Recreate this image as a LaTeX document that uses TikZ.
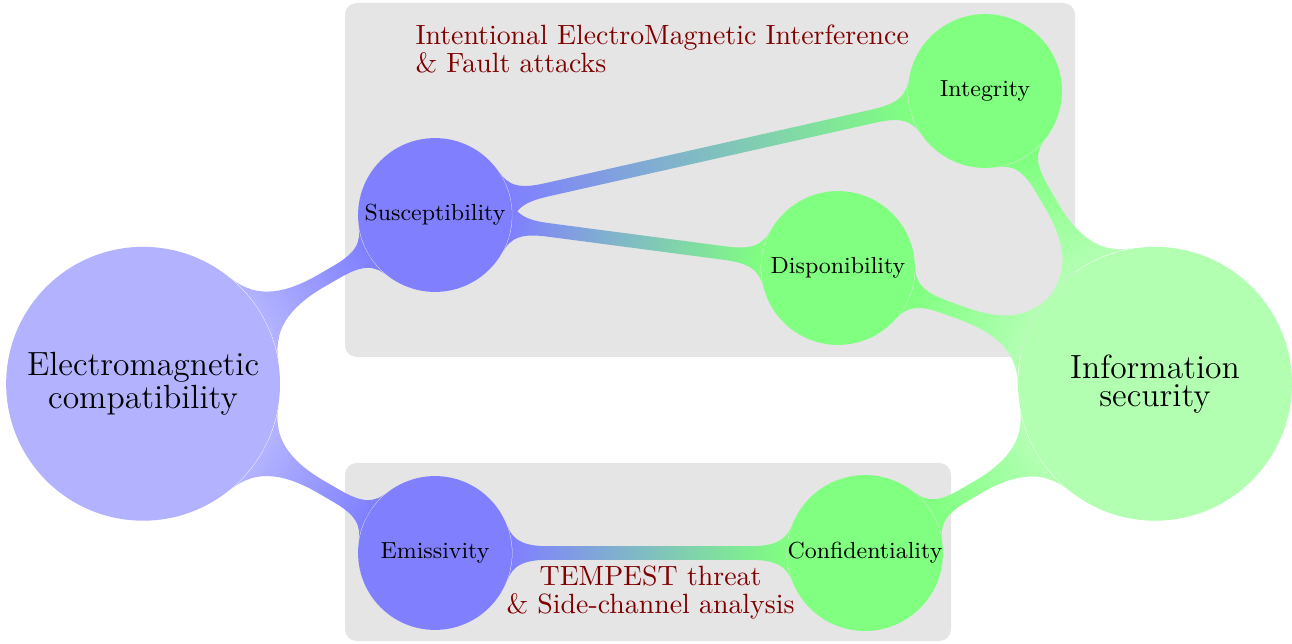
\documentclass[tikz,border=0pt]{standalone}
\usetikzlibrary{mindmap}
\newcommand{\link}[4]{
\path (#1) to[circle connection bar switch color=from (#3) to (#4)] (#2);
}
\begin{document}
\begin{tikzpicture}[
  topic/.style={circle, fill=#1, align=center, inner sep=0pt, text=black},
  big/.style={topic=#1, minimum size=3.56cm, font=\fontsize{12.4}{10.3}\selectfont},
  small/.style={topic=#1, minimum size=2cm, font=\fontsize{8.6}{10.3}\selectfont},
  threat/.style={text=red!50!black, font=\fontsize{10.3}{10.3}\selectfont, inner sep=0pt}]
\useasboundingbox (0,0) rectangle (16.796,8.359);

\fill[black!10, rounded corners=0.15cm] (4.485,3.718) rectangle (13.975,8.32);
\fill[black!10, rounded corners=0.15cm] (4.485,0.026) rectangle (12.363,2.34);

\node[big=blue!30] (emc) at (1.86,3.37) {Electromagnetic\\compatibility};
\node[big=green!30] (infosec) at (15.015,3.37) {Information\\security};

\node[small=blue!50] (susc) at (5.655,5.564) {Susceptibility};
\node[small=blue!50] (emis) at (5.655,1.17) {Emissivity};
\node[small=green!50] (integ) at (12.805,7.176) {Integrity};
\node[small=green!50] (dispo) at (10.894,4.875) {Disponibility};
\node[small=green!50] (confi) at (11.245,1.17) {Confidentiality};

\link{emc}{susc}{blue!30}{blue!50}
\link{emc}{emis}{blue!30}{blue!50}
\link{susc}{integ}{blue!50}{green!50}
\link{susc}{dispo}{blue!50}{green!50}
\link{emis}{confi}{blue!50}{green!50}
\link{integ}{infosec}{green!50}{green!30}
\link{dispo}{infosec}{green!50}{green!30}
\link{confi}{infosec}{green!50}{green!30}

\node[threat, anchor=north west, align=left] (iemi) at (5.395,8.04) {Intentional ElectroMagnetic Interference\\\& Fault attacks};
\node[threat, align=center] (tempest) at (8.457,0.657) {TEMPEST threat\\\& Side-channel analysis};

\end{tikzpicture}
\end{document}
